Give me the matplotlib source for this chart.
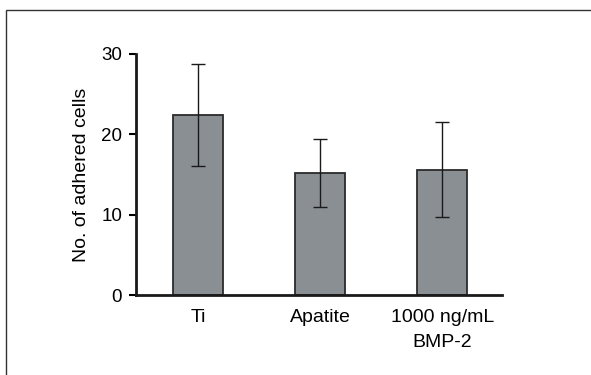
import matplotlib
matplotlib.use("Agg")
import matplotlib.pyplot as plt
from matplotlib.patches import Rectangle

# mean number of adhered cells and standard deviation per surface
groups = ["Ti", "Apatite", "1000 ng/mL\nBMP-2"]
means = [22.4, 15.2, 15.6]
errors = [6.3, 4.2, 5.9]
yticks = [0, 10, 20, 30]

plt.rcParams['font.family'] = ['Liberation Sans', 'DejaVu Sans']

fig = plt.figure(figsize=(5.91, 3.75), dpi=100)
fig.patches.append(Rectangle((6 / 591, -0.05), 1.1, 1 - 10 / 375 + 0.05,
                             transform=fig.transFigure, fill=False,
                             edgecolor="#333333", linewidth=1.0))

ax = fig.add_axes([136 / 591, 1 - 295 / 375, (502 - 136) / 591, (295 - 54) / 375])
x = range(len(groups))
ax.bar(x, means, width=0.41, color="#8a8f94", edgecolor="#2b2b2b", linewidth=1.3,
       zorder=2)
ax.errorbar(x, means, yerr=errors, fmt="none", ecolor="#1a1a1a", elinewidth=1.0,
            capsize=5, capthick=1.0, zorder=3)

ax.set_xlim(-0.51, 2.49)
ax.set_ylim(0, 30)
ax.set_yticks(yticks)
ax.set_xticks(list(x))
ax.set_xticklabels(groups, fontsize=14, linespacing=1.6)
ax.tick_params(axis="x", length=0, pad=10)
ax.tick_params(axis="y", length=5, width=1.5, labelsize=13.5, pad=5)
ax.set_ylabel("No. of adhered cells", fontsize=14, labelpad=8)

for side in ("top", "right"):
    ax.spines[side].set_visible(False)
for side in ("left", "bottom"):
    ax.spines[side].set_linewidth(2)
    ax.spines[side].set_color("#1a1a1a")

fig.savefig("out.png", dpi=100)
